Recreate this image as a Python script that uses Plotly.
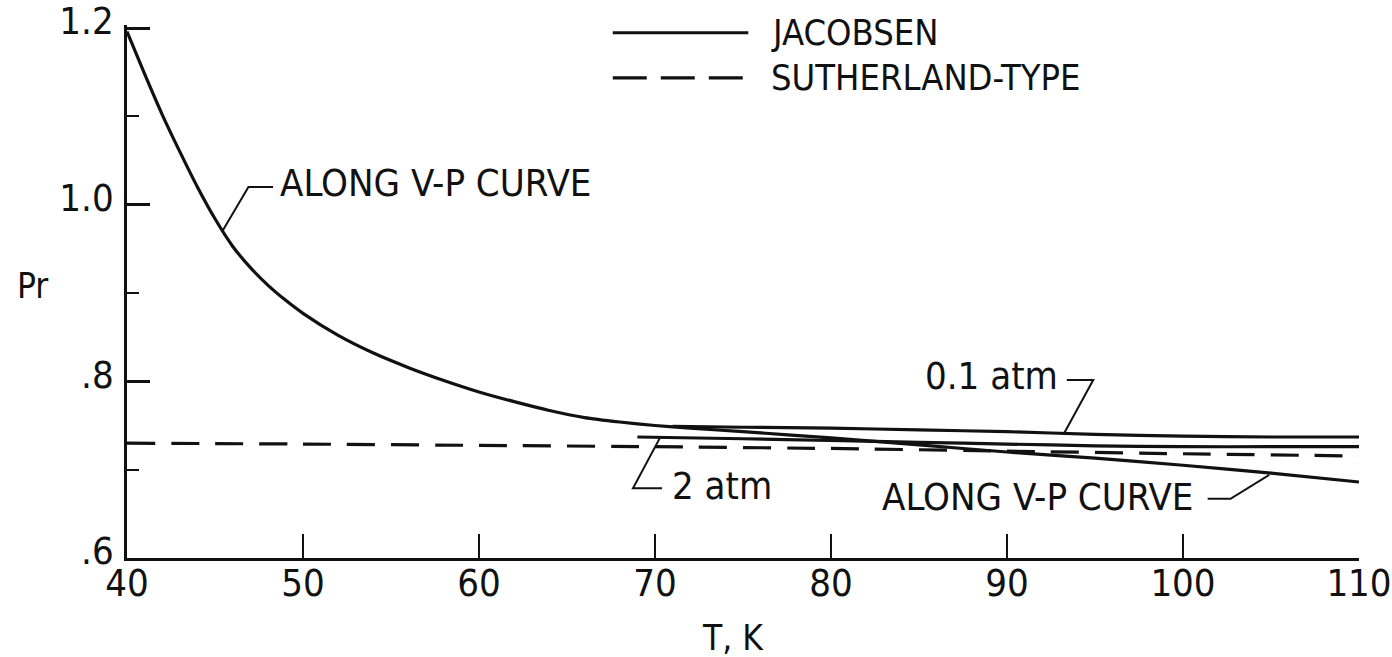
import plotly.graph_objects as go

# ---- data ----
T_vp = [40, 41, 42, 43, 44, 45, 46, 47, 48, 49, 50, 52, 54, 56, 58, 60, 62, 64, 66, 68, 70, 72, 75, 80, 85, 90, 95, 100, 105, 110]
Pr_vp = [1.196, 1.148, 1.102, 1.060, 1.020, 0.984, 0.953, 0.929, 0.909, 0.892, 0.877, 0.852, 0.832, 0.8155, 0.801,
         0.788, 0.777, 0.767, 0.759, 0.754, 0.750, 0.747, 0.743, 0.736, 0.728, 0.720, 0.713, 0.705, 0.696, 0.686]

T_01 = [71, 75, 80, 85, 90, 95, 100, 105, 110]
Pr_01 = [0.749, 0.748, 0.747, 0.745, 0.743, 0.740, 0.738, 0.737, 0.737]

T_2 = [69, 75, 80, 85, 90, 95, 100, 105, 110]
Pr_2 = [0.737, 0.735, 0.733, 0.731, 0.729, 0.727, 0.726, 0.726, 0.726]

T_su = [40, 50, 60, 70, 80, 90, 100, 110]
Pr_su = [0.730, 0.729, 0.7275, 0.726, 0.724, 0.721, 0.718, 0.7155]

x_ticks = [40, 50, 60, 70, 80, 90, 100, 110]
y_ticks = [0.6, 0.8, 1.0, 1.2]
y_ticktext = [".6", ".8", "1.0", "1.2"]

legend_labels = ["JACOBSEN", "SUTHERLAND-TYPE"]

FONT = "Liberation Sans Narrow, DejaVu Sans Condensed, Arial Narrow, sans-serif"
INK = "#111111"
LW = 3.2

fig = go.Figure()

def line(x, y, dash="solid", width=LW):
    fig.add_trace(go.Scatter(x=x, y=y, mode="lines", showlegend=False, hoverinfo="skip",
                             line=dict(color=INK, width=width, dash=dash, shape="spline", smoothing=0.6)))

line(T_su, Pr_su, dash="28px,16px")
line(T_vp, Pr_vp)
line(T_01, Pr_01)
line(T_2, Pr_2)

# leader lines for labels
leaders = [
    ([45.45, 46.9, 48.3], [0.971, 1.020, 1.020]),      # upper "ALONG V-P CURVE"
    ([93.2, 94.9, 93.4], [0.7395, 0.8016, 0.8016]),    # "0.1 atm"
    ([70.28, 68.75, 70.4], [0.736, 0.679, 0.679]),     # "2 atm"
    ([104.9, 102.7, 101.4], [0.694, 0.667, 0.667]),    # lower "ALONG V-P CURVE"
]
for lx, ly in leaders:
    fig.add_trace(go.Scatter(x=lx, y=ly, mode="lines", showlegend=False, hoverinfo="skip",
                             line=dict(color=INK, width=2)))

# legend keys
fig.add_trace(go.Scatter(x=[67.6, 75.3], y=[1.1946, 1.1946], mode="lines", showlegend=False,
                         hoverinfo="skip", line=dict(color=INK, width=LW)))
fig.add_trace(go.Scatter(x=[67.6, 75.5], y=[1.1436, 1.1436], mode="lines", showlegend=False,
                         hoverinfo="skip", line=dict(color=INK, width=LW, dash="34px,14px")))

ann_font = dict(family=FONT, size=38, color=INK)
leg_font = dict(family=FONT, size=36, color=INK)
annotations = [
    dict(x=76.5, y=1.195, text=legend_labels[0], xanchor="left", yanchor="middle", font=leg_font),
    dict(x=76.5, y=1.144, text=legend_labels[1], xanchor="left", yanchor="middle", font=leg_font),
    dict(x=48.6, y=1.025, text="ALONG V-P CURVE", xanchor="left", yanchor="middle", font=ann_font),
    dict(x=93.0, y=0.806, text="0.1 atm", xanchor="right", yanchor="middle", font=ann_font),
    dict(x=70.85, y=0.681, text="2 atm", xanchor="left", yanchor="middle", font=ann_font),
    dict(x=100.7, y=0.669, text="ALONG V-P CURVE", xanchor="right", yanchor="middle", font=ann_font),
]
for a in annotations:
    fig.add_annotation(**a, showarrow=False, xref="x", yref="y")

# axis titles as horizontal text
fig.add_annotation(x=-0.0763, y=0.51, xref="paper", yref="paper", text="Pr", showarrow=False,
                   xanchor="center", yanchor="middle", font=dict(family=FONT, size=35, color=INK))
fig.add_annotation(x=0.492, y=-0.151, xref="paper", yref="paper", text="T, K", showarrow=False,
                   xanchor="center", yanchor="middle", font=dict(family=FONT, size=35, color=INK))

fig.update_layout(
    width=1392, height=657,
    margin=dict(l=127, r=33, t=25, b=99, pad=0),
    paper_bgcolor="white", plot_bgcolor="white",
    font=dict(family=FONT, size=38, color=INK),
    xaxis=dict(range=[40, 110], tickvals=x_ticks, ticks="inside", ticklen=24, tickwidth=2,
               tickcolor=INK, showline=True, linewidth=2.5, linecolor=INK, showgrid=False,
               zeroline=False, automargin=False, ticklabelstandoff=-10, ticklabeloverflow="allow",
               tickfont=dict(family=FONT, size=38, color=INK)),
    yaxis=dict(range=[0.6, 1.2034], tickvals=y_ticks, ticktext=y_ticktext, ticks="inside", ticklen=23,
               tickwidth=2.5, tickcolor=INK, showline=True, linewidth=2.5, linecolor=INK,
               showgrid=False, zeroline=False, automargin=False, ticklabelstandoff=3,
               ticklabelshift=-7, ticklabeloverflow="allow",
               tickfont=dict(family=FONT, size=38, color=INK),
               minor=dict(ticks="inside", ticklen=12, tickwidth=2, tickcolor=INK, dtick=0.1, tick0=0.6)),
)

fig.write_html("out.html")
